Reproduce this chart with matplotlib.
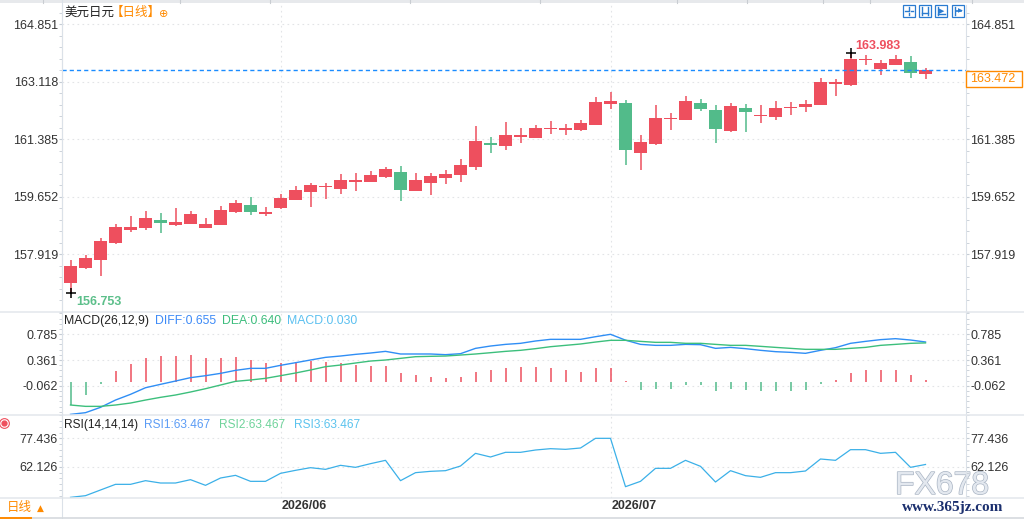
import numpy as np
import pandas as pd
import matplotlib
matplotlib.use("Agg")
import matplotlib.pyplot as plt
from matplotlib.lines import Line2D
from matplotlib.patches import Rectangle
from matplotlib.ticker import FixedLocator
from matplotlib.transforms import blended_transform_factory
import matplotlib.patheffects as pe

plt.rcParams['font.family'] = ['Liberation Sans', 'Noto Sans CJK SC', 'DejaVu Sans']

# ---- data (USD/JPY daily) ----
dates = pd.bdate_range('2026-05-12', periods=58)

opens = [157.054, 157.497, 157.747, 158.260, 158.651, 158.712, 158.944, 158.802, 158.832, 158.712,
         158.802, 159.185, 159.396, 159.134, 159.305, 159.556, 159.797, 159.938, 159.887, 160.098,
         160.098, 160.249, 160.390, 159.827, 160.068, 160.219, 160.309, 160.550, 161.273, 161.183,
         161.454, 161.424, 161.686, 161.656, 161.656, 161.816, 162.449, 162.470, 160.972, 161.243,
         161.988, 161.967, 162.470, 162.259, 161.635, 162.319, 162.078, 162.057, 162.319, 162.358,
         162.419, 163.052, 163.022, 163.766, 163.504, 163.624, 163.706, 163.350]
highs = [157.738, 157.889, 158.401, 158.823, 159.064, 159.215, 159.155, 159.305, 159.215, 159.004,
         159.366, 159.547, 159.637, 159.336, 159.727, 159.968, 160.059, 160.059, 160.330, 160.360,
         160.421, 160.541, 160.571, 160.360, 160.360, 160.451, 160.782, 161.777, 161.445, 161.897,
         161.717, 161.807, 161.928, 161.837, 161.958, 162.651, 162.802, 162.560, 161.506, 162.410,
         162.169, 162.681, 162.591, 162.410, 162.470, 162.440, 162.410, 162.530, 162.500, 162.560,
         163.223, 163.193, 163.983, 163.917, 163.766, 163.917, 163.887, 163.530]
lows = [156.753, 157.480, 157.256, 158.229, 158.591, 158.651, 158.561, 158.772, 158.820, 158.700,
        158.790, 159.164, 159.103, 159.073, 159.284, 159.540, 159.345, 159.586, 159.736, 159.827,
        160.090, 160.210, 159.525, 159.810, 159.706, 160.038, 160.098, 160.460, 160.972, 161.063,
        161.273, 161.410, 161.545, 161.515, 161.640, 161.800, 162.298, 160.610, 160.460, 161.213,
        161.665, 161.950, 162.238, 161.273, 161.605, 161.605, 161.876, 161.967, 162.117, 162.208,
        162.400, 162.690, 162.991, 163.624, 163.323, 163.610, 163.233, 163.200]
closes = [157.557, 157.798, 158.311, 158.733, 158.733, 159.004, 158.862, 158.883, 159.134, 158.823,
          159.245, 159.456, 159.194, 159.194, 159.607, 159.848, 159.999, 159.968, 160.149, 160.149,
          160.300, 160.481, 159.857, 160.149, 160.270, 160.330, 160.601, 161.325, 161.213, 161.506,
          161.506, 161.717, 161.717, 161.717, 161.867, 162.500, 162.530, 161.053, 161.295, 162.018,
          162.018, 162.530, 162.298, 161.695, 162.380, 162.208, 162.108, 162.319, 162.349, 162.440,
          163.103, 163.103, 163.796, 163.796, 163.676, 163.796, 163.383, 163.472]

diff = [-0.526, -0.498, -0.411, -0.292, -0.199, -0.091, -0.036, 0.018, 0.073, 0.105,
        0.143, 0.192, 0.225, 0.225, 0.274, 0.317, 0.361, 0.404, 0.426, 0.453,
        0.475, 0.502, 0.459, 0.459, 0.459, 0.448, 0.464, 0.551, 0.589, 0.616,
        0.633, 0.671, 0.698, 0.698, 0.698, 0.741, 0.780, 0.685, 0.616, 0.600,
        0.600, 0.616, 0.611, 0.551, 0.567, 0.546, 0.519, 0.497, 0.486, 0.470,
        0.519, 0.562, 0.633, 0.665, 0.693, 0.709, 0.687, 0.655]
dea = [-0.373, -0.395, -0.395, -0.373, -0.341, -0.292, -0.248, -0.210, -0.161, -0.107,
       -0.047, 0.013, 0.035, 0.062, 0.105, 0.149, 0.198, 0.252, 0.279, 0.312,
       0.344, 0.361, 0.388, 0.415, 0.421, 0.426, 0.442, 0.459, 0.480, 0.502,
       0.519, 0.546, 0.578, 0.600, 0.622, 0.654, 0.682, 0.682, 0.665, 0.649,
       0.649, 0.633, 0.633, 0.616, 0.600, 0.600, 0.584, 0.567, 0.551, 0.535,
       0.535, 0.535, 0.551, 0.567, 0.600, 0.616, 0.633, 0.640]
macd_hist = [-0.370, -0.207, -0.033, 0.179, 0.294, 0.392, 0.424, 0.424, 0.440, 0.392,
             0.392, 0.408, 0.359, 0.310, 0.310, 0.326, 0.343, 0.326, 0.310, 0.277,
             0.261, 0.261, 0.147, 0.114, 0.082, 0.065, 0.082, 0.163, 0.201, 0.228,
             0.245, 0.245, 0.228, 0.196, 0.163, 0.228, 0.228, 0.022, -0.125, -0.114,
             -0.114, -0.049, -0.049, -0.147, -0.114, -0.131, -0.147, -0.147, -0.147, -0.131,
             -0.033, 0.033, 0.147, 0.196, 0.196, 0.196, 0.114, 0.030]
rsi = [45.93, 46.82, 49.85, 52.87, 52.87, 54.83, 53.58, 53.58, 55.36, 52.34,
       56.25, 57.67, 54.47, 54.47, 58.74, 60.34, 61.76, 60.87, 63.01, 61.94,
       63.90, 65.68, 54.83, 59.10, 59.81, 60.16, 62.65, 69.41, 67.46, 69.95,
       69.95, 71.19, 71.90, 71.55, 72.26, 77.42, 77.42, 51.62, 54.47, 61.41,
       61.41, 65.68, 62.48, 54.12, 60.16, 57.50, 56.61, 59.10, 59.10, 59.99,
       66.39, 65.68, 71.37, 71.37, 69.41, 69.95, 61.94, 63.467]

price_ticks = [157.919, 159.652, 161.385, 163.118, 164.851]
macd_ticks = [-0.062, 0.361, 0.785]
rsi_ticks = [62.126, 77.436]

RED = '#ee4f5e'
GREEN = '#52bb8a'
ORANGE = '#ff8a00'
GRID = '#e2e4e7'
W, H = 1024, 519


def box(l, t, r, b):
    return [l / W, 1 - b / H, (r - l) / W, (b - t) / H]


def fig_line(x0, y0, x1, y1, **kw):
    fig.add_artist(Line2D([x0 / W, x1 / W], [1 - y0 / H, 1 - y1 / H],
                          transform=fig.transFigure, **kw))


def fig_text(x, y, s, **kw):
    va = kw.pop('va', 'center')
    ha = kw.pop('ha', 'left')
    return fig.text(x / W, 1 - y / H, s, va=va, ha=ha, **kw)


fig = plt.figure(figsize=(W / 100, H / 100), dpi=100)
fig.patch.set_facecolor('white')

# watermark first so the axis labels sit on top of it
fig_text(895, 494, 'FX678', fontsize=23, color='#e3e8ef', va='baseline', zorder=0,
         path_effects=[pe.withStroke(linewidth=1.0, foreground='#aab5c4')])

ax1 = fig.add_axes(box(62, 5, 966, 312))
ax2 = fig.add_axes(box(62, 312, 966, 415), sharex=ax1)
ax3 = fig.add_axes(box(62, 415, 966, 498), sharex=ax1)
for ax in (ax1, ax2, ax3):
    ax.patch.set_alpha(0)
    ax.set_zorder(1)

x = np.arange(len(closes))
o = np.array(opens)
c = np.array(closes)
up = c >= o
cols = np.where(up, RED, GREEN)

# candles
ax1.vlines(x, lows, highs, colors=cols, lw=1.1, zorder=3)
ax1.bar(x, np.maximum(np.abs(c - o), 0.035), bottom=np.minimum(o, c), width=0.85,
        color=cols, linewidth=0, zorder=3)
ax1.axhline(c[-1], color='#1a8cff', lw=1.0, dashes=(3, 2.2), zorder=4)

imax = int(np.argmax(highs))
imin = int(np.argmin(lows))
ax1.plot(imax, highs[imax], marker='+', color='black', ms=7, mew=1.1, zorder=5)
ax1.plot(imin, lows[imin], marker='+', color='black', ms=7, mew=1.1, zorder=5)
ax1.annotate(f'{highs[imax]:.3f}', xy=(imax, highs[imax]), xytext=(3.6, 5),
             textcoords='offset points', ha='left', va='center', color=RED,
             fontsize=9, fontweight='bold')
ax1.annotate(f'{lows[imin]:.3f}', xy=(imin, lows[imin]), xytext=(4, -6.5),
             textcoords='offset points', ha='left', va='center', color='#5cbf8a',
             fontsize=9, fontweight='bold')

# MACD
hist = np.array(macd_hist)
ax2.vlines(x, 0, hist, colors=np.where(hist >= 0, RED, GREEN), lw=1.1, zorder=3)
ax2.plot(x, diff, color='#2f8ef5', lw=1.0, zorder=4)
ax2.plot(x, dea, color='#3cbf7c', lw=1.0, zorder=4)

# RSI
ax3.plot(x, rsi, color='#3bb0e8', lw=0.9, zorder=4)

ax1.set_xlim(-0.567, 59.7)
ax1.set_ylim(156.171, 165.424)
ax2.set_ylim(-0.536, 1.144)
ax3.set_ylim(45.58, 89.87)

month_idx = [i for i in range(1, len(dates)) if dates[i].month != dates[i - 1].month]

for ax, ticks in ((ax1, price_ticks), (ax2, macd_ticks), (ax3, rsi_ticks)):
    for s in ('top', 'bottom'):
        ax.spines[s].set_visible(False)
    for s in ('left', 'right'):
        ax.spines[s].set_color('#dbe1e8')
    ax.set_yticks(ticks)
    ax.set_yticklabels([f'{t:.3f}' for t in ticks])
    step = (ticks[1] - ticks[0]) / 5
    lo, hi = ax.get_ylim()
    k0 = int(np.floor((lo - ticks[0]) / step))
    k1 = int(np.ceil((hi - ticks[0]) / step))
    ax.yaxis.set_minor_locator(FixedLocator([ticks[0] + k * step for k in range(k0, k1 + 1)]))
    ax.tick_params(axis='y', which='both', left=True, right=True, labelleft=True,
                   labelright=True, colors='#c5ccd4', labelcolor='#333333',
                   labelsize=9, pad=1)
    ax.tick_params(axis='y', which='major', length=2)
    ax.tick_params(axis='y', which='minor', length=2)
    ax.tick_params(axis='x', which='both', bottom=False, labelbottom=False)
    ax.grid(axis='y', which='major', color=GRID, lw=0.8, linestyle=(0, (1.5, 3)))
    for m in month_idx:
        ax.axvline(m, color=GRID, lw=0.8, linestyle=(0, (1.5, 3)), zorder=1)

# the last-price box hides the right label of the tick it sits on
for t, v in zip(ax1.yaxis.get_major_ticks(), price_ticks):
    if abs(v - c[-1]) < 0.5:
        t.label2.set_visible(False)

trans = blended_transform_factory(ax3.transData, ax3.transAxes)
for m in month_idx:
    ax3.text(m + 0.1, -0.096, dates[m].strftime('%Y/%m'), transform=trans, ha='left',
             va='center', fontsize=9, fontweight='bold', color='#333333')

# panel dividers and frame
for yy in (312, 415):
    fig_line(0, yy, W, yy, color='#e3e7ec', lw=1.1)
fig_line(0, 498, W, 498, color='#e3e7ec', lw=1.1)
fig_line(62, 0, 62, H, color='#dbe1e8', lw=0.8)
fig_line(0, 518, W, 518, color='#d5d9de', lw=1.2)
fig_line(0, 518, 31, 518, color=ORANGE, lw=1.4)
fig.add_artist(Rectangle((0, 1 - 3 / H), 1, 3 / H, transform=fig.transFigure,
                         color='#e7e9ec', lw=0))
for sx in (43, 180, 270, 410, 540, 677, 747, 823, 870, 972):
    fig_line(sx, 0, sx, 3, color='#c9cdd2', lw=0.8)

# titles
fig_text(64, 13, '美元日元', fontsize=9, color='#222222')
fig_text(111, 13, '【日线】', fontsize=9, color=ORANGE)
fig_text(159, 14, '⊕', fontsize=8, color=ORANGE, family='DejaVu Sans')

fig_text(64, 321, 'MACD(26,12,9)', fontsize=8.8, color='#222222')
fig_text(155, 321, f'DIFF:{diff[-1]:.3f}', fontsize=8.8, color='#3d8af7')
fig_text(222, 321, f'DEA:{dea[-1]:.3f}', fontsize=8.8, color='#3dbd7d')
fig_text(287, 321, f'MACD:{macd_hist[-1]:.3f}', fontsize=8.8, color='#5bc0f0')

fig_text(64, 425, 'RSI(14,14,14)', fontsize=8.6, color='#222222')
fig_text(144, 425, f'RSI1:{rsi[-1]:.3f}', fontsize=8.6, color='#5b9cf5')
fig_text(219, 425, f'RSI2:{rsi[-1]:.3f}', fontsize=8.6, color='#6fd39b')
fig_text(294, 425, f'RSI3:{rsi[-1]:.3f}', fontsize=8.6, color='#5bc3ee')

# last price box on the right axis
fig.add_artist(Rectangle((966 / W, 1 - 87 / H), 56 / W, 16.5 / H, transform=fig.transFigure,
                         facecolor='white', edgecolor=ORANGE, lw=1.0, zorder=5))
fig_text(970, 79, f'{closes[-1]:.3f}', fontsize=9, color=ORANGE, zorder=6)

# toolbar icons top right
IC = '#2a7bd0'
for bx in (903, 919, 935, 952):
    fig.add_artist(Rectangle((bx / W, 1 - 17 / H), 12 / W, 12 / H, transform=fig.transFigure,
                             facecolor='white', edgecolor=IC, lw=0.9))
fig_line(905, 11, 909, 11, color=IC, lw=1.0)
fig_line(911, 11, 913, 11, color=IC, lw=1.0)
fig_line(909, 7, 909, 9.5, color=IC, lw=1.0)
fig_line(909, 12.5, 909, 15, color=IC, lw=1.0)
fig_line(922, 7, 922, 15, color=IC, lw=1.0)
fig_line(928, 7, 928, 15, color=IC, lw=1.0)
fig_line(922, 13, 928, 13, color=IC, lw=1.0)
fig_line(938, 7, 938, 15, color=IC, lw=1.0)
fig_line(938, 14, 945, 14, color=IC, lw=1.0)
fig_text(942, 11, '▶', fontsize=5, color=IC, ha='center', family='DejaVu Sans')
fig_line(955, 7, 955, 15, color=IC, lw=1.0)
fig_line(956, 11, 961, 11, color=IC, lw=1.2)
fig_text(960, 11, '▶', fontsize=4.5, color=IC, ha='center', family='DejaVu Sans')

# bottom-left period selector and left icon
fig_text(7, 508, '日线', fontsize=9, color=ORANGE)
fig_text(37, 508, '▲', fontsize=6.5, color=ORANGE, family='DejaVu Sans')
fig.add_artist(Line2D([4 / W], [1 - 423 / H], marker='o', ms=7, mfc='none', mec=RED,
                      mew=0.8, ls='none', transform=fig.transFigure))
fig.add_artist(Line2D([4 / W], [1 - 423 / H], marker='o', ms=3.5, mfc=RED, mec=RED,
                      ls='none', transform=fig.transFigure))

fig_text(902, 508, 'www.365jz.com', fontsize=11, color='#1b2f6e', fontweight='bold',
         family='Liberation Serif')

fig.savefig('out.png', dpi=100)
